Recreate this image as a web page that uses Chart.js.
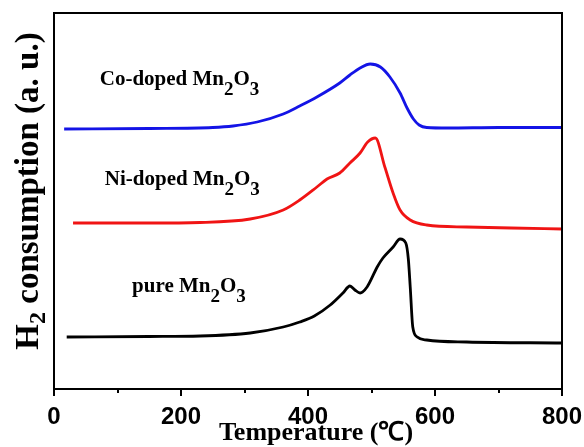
<!DOCTYPE html>
<html>
<head>
<meta charset="utf-8">
<script src="https://cdn.jsdelivr.net/npm/chart.js@4.4.1/dist/chart.umd.min.js"></script>
<style>
  html, body { margin: 0; padding: 0; background: #fff; }
  canvas { display: block; }
</style>
</head>
<body>
<canvas id="tpr" width="584" height="447"></canvas>
<script>
// H2-TPR profiles (temperature in °C, signal in arbitrary units, curves offset vertically)
const coTemp   = [16, 150, 250, 282, 320, 361, 387, 414, 450, 466, 482, 498, 514, 529, 545, 556, 566, 575, 587, 620, 700, 800];
const coSignal = [260, 260.5, 261.5, 263, 267, 275, 283, 292, 306, 314, 321, 325, 322, 312, 296, 281, 270, 264, 261.5, 261, 261.5, 261.5];

const niTemp   = [30, 150, 230, 309, 361, 387, 414, 430, 450, 466, 482, 494, 506, 521, 534, 545, 561, 587, 650, 720, 800];
const niSignal = [166, 166, 166.5, 170, 179, 189, 202, 210, 216, 226, 236, 247, 251, 222, 196, 179, 169, 164, 162, 161, 160];

const pureTemp   = [20, 150, 230, 309, 361, 387, 410, 435, 455, 466, 474, 482, 493, 509, 518, 534, 545, 554, 558, 561, 565, 572, 587, 650, 800];
const pureSignal = [52, 52.5, 53, 56, 62, 67, 73, 84, 96, 103, 99, 96, 102, 122, 131, 142, 150, 146, 130, 102, 62, 52, 49, 47, 46];

const xMajorTicks = [0, 200, 400, 600, 800];
const xMinorTicks = [100, 300, 500, 700];

// Series labels: [text, isSubscript] pieces, anchored at (temperature, signal)
const coLabel   = [["Co-doped Mn", false], ["2", true], ["O", false], ["3", true]];
const niLabel   = [["Ni-doped Mn", false], ["2", true], ["O", false], ["3", true]];
const pureLabel = [["pure Mn", false], ["2", true], ["O", false], ["3", true]];
const labelAnchors = [[72, 304, coLabel], [80, 204, niLabel], [123, 97, pureLabel]];

const SERIF = '"Liberation Serif", "Times New Roman", serif';
const SANS = '"Liberation Sans", Arial, sans-serif';

function toPoints(xs, ys) {
  return xs.map((x, i) => ({ x: x, y: ys[i] }));
}

function drawPieces(ctx, pieces, x, y, mainSize, subSize, subDrop) {
  let cx = x;
  ctx.textBaseline = 'alphabetic';
  ctx.textAlign = 'left';
  for (const [txt, sub] of pieces) {
    ctx.font = 'bold ' + (sub ? subSize : mainSize) + 'px ' + SERIF;
    ctx.fillText(txt, cx, sub ? y + subDrop : y);
    cx += ctx.measureText(txt).width;
  }
  return cx - x;
}

function piecesWidth(ctx, pieces, mainSize, subSize) {
  let w = 0;
  for (const [txt, sub] of pieces) {
    ctx.font = 'bold ' + (sub ? subSize : mainSize) + 'px ' + SERIF;
    w += ctx.measureText(txt).width;
  }
  return w;
}

const framePlugin = {
  id: 'frameAndText',
  afterDraw(chart) {
    const { ctx, chartArea: a, scales } = chart;
    const xs = scales.x, ys = scales.y;
    ctx.save();
    // box frame
    ctx.strokeStyle = '#000';
    ctx.lineWidth = 2;
    ctx.strokeRect(a.left, a.top, a.right - a.left, a.bottom - a.top);
    // minor ticks on the temperature axis
    for (const v of xMinorTicks) {
      const px = Math.round(xs.getPixelForValue(v));
      ctx.beginPath();
      ctx.moveTo(px, a.bottom);
      ctx.lineTo(px, a.bottom + 4);
      ctx.stroke();
    }
    ctx.fillStyle = '#000';
    // series labels
    for (const [t, s, pieces] of labelAnchors) {
      drawPieces(ctx, pieces, xs.getPixelForValue(t), ys.getPixelForValue(s), 21, 19, 10);
    }
    // x axis title
    ctx.font = 'bold 26px ' + SERIF;
    ctx.textAlign = 'center';
    ctx.textBaseline = 'alphabetic';
    ctx.fillText('Temperature (\u2103)', (a.left + a.right) / 2 + 8, 440);
    // y axis title, rotated
    const yPieces = [["H", false], ["2", true], [" consumption (a. u.)", false]];
    const w = piecesWidth(ctx, yPieces, 33, 24);
    ctx.translate(38, 191);
    ctx.rotate(-Math.PI / 2);
    drawPieces(ctx, yPieces, -w / 2, 0, 33, 24, 7);
    ctx.restore();
  }
};

new Chart(document.getElementById('tpr'), {
  type: 'line',
  data: {
    datasets: [
      { label: 'Co-doped Mn2O3', data: toPoints(coTemp, coSignal), borderColor: '#1414e6', borderWidth: 2.8 },
      { label: 'Ni-doped Mn2O3', data: toPoints(niTemp, niSignal), borderColor: '#f01414', borderWidth: 2.8 },
      { label: 'pure Mn2O3', data: toPoints(pureTemp, pureSignal), borderColor: '#000000', borderWidth: 2.8 }
    ]
  },
  options: {
    responsive: false,
    animation: false,
    devicePixelRatio: 1,
    elements: {
      point: { radius: 0 },
      line: { cubicInterpolationMode: 'monotone', fill: false }
    },
    layout: { padding: { left: 54, right: 22, top: 13, bottom: 0 } },
    plugins: { legend: { display: false }, tooltip: { enabled: false } },
    scales: {
      x: {
        type: 'linear',
        min: 0,
        max: 800,
        afterBuildTicks(scale) {
          scale.ticks = xMajorTicks.map(v => ({ value: v }));
        },
        afterFit(scale) {
          scale.height = 58;
          // let the end labels overhang the plot edges
          scale.paddingLeft = 0;
          scale.paddingRight = 0;
        },
        ticks: {
          color: '#000',
          font: { family: SANS, size: 24, weight: 'bold' },
          padding: 7,
          maxRotation: 0,
          autoSkip: false
        },
        grid: { drawOnChartArea: false, tickLength: 7, color: '#000', lineWidth: 2 },
        border: { display: true, color: '#000', width: 2 }
      },
      y: { display: false, min: 0, max: 376 }
    }
  },
  plugins: [framePlugin]
});
</script>
</body>
</html>
